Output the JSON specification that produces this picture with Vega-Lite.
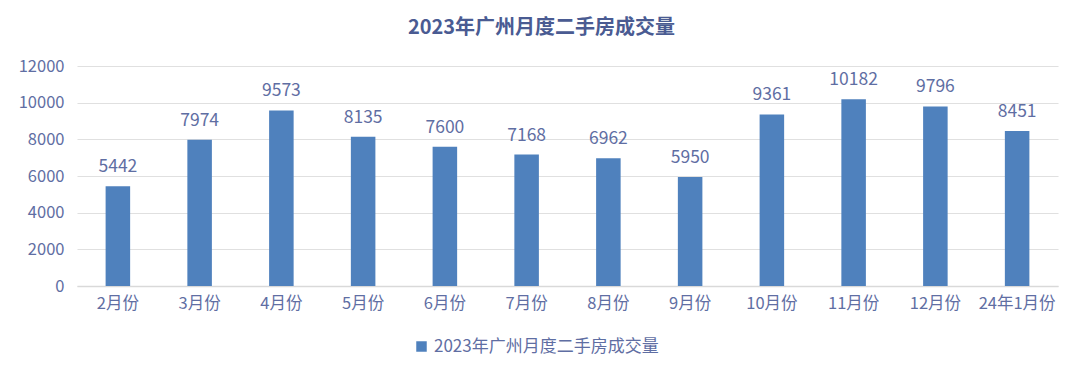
{
  "$schema": "https://vega.github.io/schema/vega-lite/v6.json",
  "autosize": {"type": "none"},
  "width": 981,
  "height": 220,
  "padding": {"left": 77, "top": 66, "right": 22, "bottom": 93},
  "background": "white",
  "title": {
    "text": "2023年广州月度二手房成交量",
    "anchor": "middle",
    "dx": -26,
    "offset": 20,
    "font": "Noto Sans CJK SC",
    "fontSize": 20,
    "fontWeight": "bold",
    "color": "#4A5B92"
  },
  "data": {
    "values": [
      {"month": "2月份", "value": 5442, "series": "2023年广州月度二手房成交量"},
      {"month": "3月份", "value": 7974, "series": "2023年广州月度二手房成交量"},
      {"month": "4月份", "value": 9573, "series": "2023年广州月度二手房成交量"},
      {"month": "5月份", "value": 8135, "series": "2023年广州月度二手房成交量"},
      {"month": "6月份", "value": 7600, "series": "2023年广州月度二手房成交量"},
      {"month": "7月份", "value": 7168, "series": "2023年广州月度二手房成交量"},
      {"month": "8月份", "value": 6962, "series": "2023年广州月度二手房成交量"},
      {"month": "9月份", "value": 5950, "series": "2023年广州月度二手房成交量"},
      {"month": "10月份", "value": 9361, "series": "2023年广州月度二手房成交量"},
      {"month": "11月份", "value": 10182, "series": "2023年广州月度二手房成交量"},
      {"month": "12月份", "value": 9796, "series": "2023年广州月度二手房成交量"},
      {"month": "24年1月份", "value": 8451, "series": "2023年广州月度二手房成交量"}
    ]
  },
  "encoding": {
    "x": {
      "field": "month",
      "type": "nominal",
      "sort": null,
      "scale": {"paddingInner": 0.7, "paddingOuter": 0.35},
      "axis": {
        "title": null,
        "labelAngle": 0,
        "labelFont": "Noto Sans CJK SC",
        "labelFontSize": 16.5,
        "labelColor": "#5F6EA3",
        "labelPadding": 9,
        "labelLimit": 0,
        "ticks": false,
        "domainColor": "#d9d9d9",
        "domainWidth": 1.5
      }
    },
    "y": {
      "field": "value",
      "type": "quantitative",
      "scale": {"domain": [0, 12000]},
      "axis": {
        "title": null,
        "values": [0, 2000, 4000, 6000, 8000, 10000, 12000],
        "format": "d",
        "labelFont": "Noto Sans CJK SC",
        "labelFontSize": 16.5,
        "labelColor": "#5F6EA3",
        "labelPadding": 13,
        "ticks": false,
        "domain": false,
        "gridColor": "#e0e0e0",
        "gridWidth": 1.2
      }
    }
  },
  "layer": [
    {
      "mark": {"type": "bar", "color": "#4F81BD"},
      "encoding": {
        "color": {
          "field": "series",
          "type": "nominal",
          "scale": {"range": ["#4F81BD"]},
          "legend": {
            "title": null,
            "orient": "none",
            "legendX": 336,
            "legendY": 272,
            "symbolType": "square",
            "symbolSize": 110,
            "labelFont": "Noto Sans CJK SC",
            "labelFontSize": 17,
            "labelLimit": 0,
            "labelColor": "#5F6EA3"
          }
        }
      }
    },
    {
      "mark": {
        "type": "text",
        "baseline": "alphabetic",
        "dy": -14,
        "font": "Noto Sans CJK SC",
        "fontSize": 17.5,
        "color": "#5F6EA3"
      },
      "encoding": {"text": {"field": "value", "type": "quantitative", "format": "d"}}
    }
  ],
  "config": {"view": {"stroke": null}}
}
